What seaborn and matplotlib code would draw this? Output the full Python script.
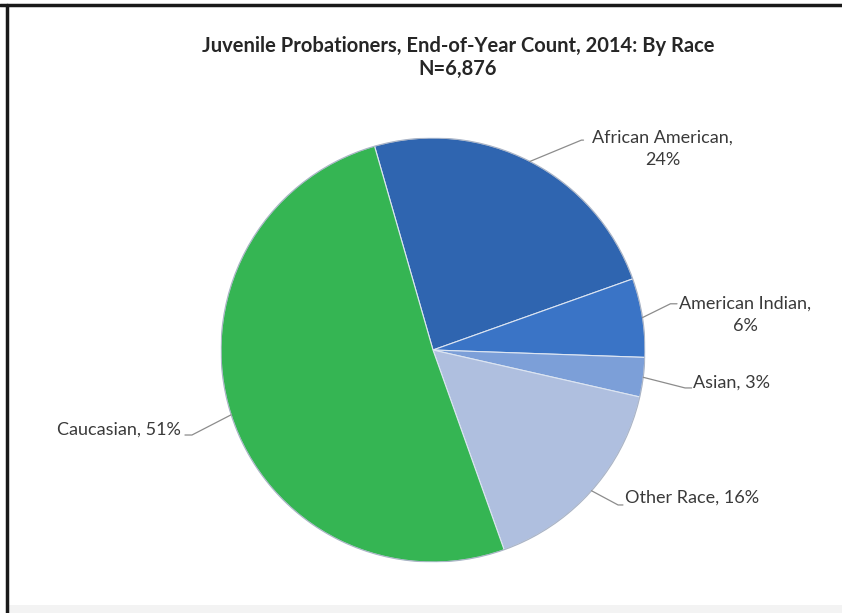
import numpy as np
import matplotlib
matplotlib.use('Agg')
import matplotlib.pyplot as plt
import seaborn as sns
from matplotlib.lines import Line2D
from matplotlib.patches import Rectangle


# ===================================
# Data
# ===================================
RACES    = ['African American', 'American Indian', 'Asian', 'Other Race', 'Caucasian']
SHARES   = [24, 6, 3, 16, 51]
LABELS   = ['African American,\n24%', 'American Indian,\n6%', 'Asian, 3%',
            'Other Race, 16%', 'Caucasian, 51%']
COLORS   = ['#2f65b0', '#3a74c6', '#7c9fd8', '#afbfdf', '#35b553']
TITLE    = 'Juvenile Probationers, End-of-Year Count, 2014: By Race'
SUBTITLE = 'N=6,876'

# label layout in pie-radius units: text x, text y, ha, elbow x, elbow y, line end x
LABEL_POS = [
    (1.082, 0.95,  'center', 0.70,  0.99,  0.71),
    (1.472, 0.165, 'center', 1.12,  0.218, 1.151),
    (1.226, -0.156, 'left',  1.189, -0.179, 1.22),
    (0.906, -0.698, 'left',  0.873, -0.731, 0.896),
    (-1.189, -0.377, 'right', -1.137, -0.401, -1.170),
]

W, H = 842, 613
CX, CY, R = 433, 350, 212

sns.set_theme(style='white')
plt.rcParams['font.family'] = ['Lato', 'DejaVu Sans']

fig = plt.figure(figsize=(W / 100, H / 100), dpi=100)
fig.patch.set_facecolor('white')

ax = fig.add_axes([(CX - R) / W, (H - CY - R) / H, 2 * R / W, 2 * R / H])
wedges, _ = ax.pie(
    SHARES, colors=COLORS, startangle=106, counterclock=False,
    radius=1.0, wedgeprops=dict(edgecolor='#dce5f2', linewidth=0.8),
)
ax.set_xlim(-1, 1)
ax.set_ylim(-1, 1)
ax.set_aspect('equal')
ax.axis('off')

# outer rim, slightly darker like the original bevel
ax.add_patch(plt.Circle((0, 0), 1.0, fill=False, edgecolor='#8a94a8',
                        linewidth=0.8, alpha=0.6, zorder=3))

text_color = '#3a3a3a'
for w, lab, (tx, ty, ha, ex, ey, lx) in zip(wedges, LABELS, LABEL_POS):
    mid = np.deg2rad((w.theta1 + w.theta2) / 2)
    px, py = np.cos(mid), np.sin(mid)
    ax.plot([px, ex, lx], [py, ey, ey], color='#8c8c8c', linewidth=0.9,
            clip_on=False, zorder=4)
    ax.text(tx, ty, lab, ha=ha, va='center', multialignment='center',
            fontsize=13, color=text_color, clip_on=False, linespacing=1.5)

fig.text(458 / W, 1 - 46 / H, TITLE, ha='center', va='center',
         fontsize=14.5, fontweight='bold', color='#262626')
fig.text(458 / W, 1 - 69 / H, SUBTITLE, ha='center', va='center',
         fontsize=14.5, fontweight='bold', color='#262626')

# frame: dark top and left edges, grey strip at the bottom
fig.add_artist(Line2D([0, 1], [1 - 5 / H, 1 - 5 / H], color='#1a1a1a', linewidth=2.5))
fig.add_artist(Line2D([7 / W, 7 / W], [0, 1 - 5 / H], color='#1a1a1a', linewidth=2.5))
fig.add_artist(Rectangle((8 / W, 0), 1, 8 / H, transform=fig.transFigure,
                         facecolor='#f3f3f3', edgecolor='none'))

plt.savefig('out.png', dpi=100)
plt.close()
